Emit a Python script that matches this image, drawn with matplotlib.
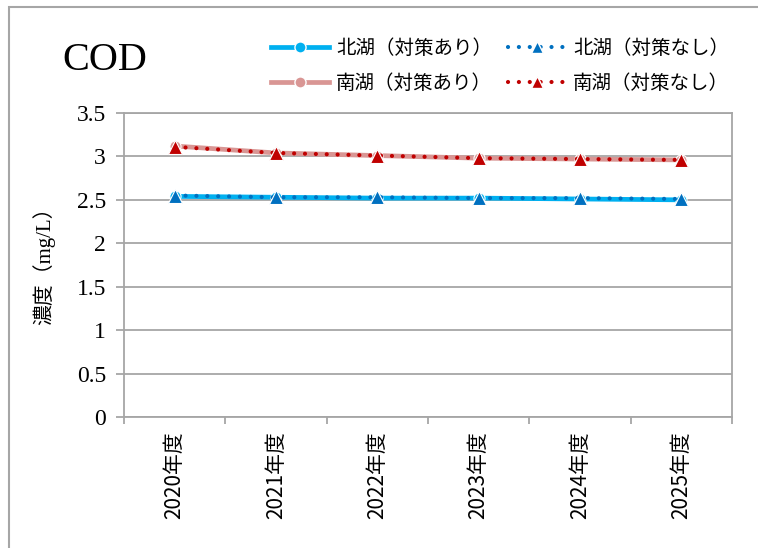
import matplotlib
matplotlib.use("Agg")
import matplotlib.pyplot as plt
from matplotlib.lines import Line2D
from matplotlib.patches import Rectangle

years = ["2020年度", "2021年度", "2022年度", "2023年度", "2024年度", "2025年度"]
north_with = [2.54, 2.53, 2.52, 2.52, 2.51, 2.50]
north_without = [2.55, 2.53, 2.53, 2.52, 2.52, 2.51]
south_with = [3.12, 3.04, 3.01, 2.98, 2.97, 2.96]
south_without = [3.11, 3.04, 3.01, 2.98, 2.97, 2.96]
yticks = [0, 0.5, 1, 1.5, 2, 2.5, 3, 3.5]
ytick_labels = ["0", "0.5", "1", "1.5", "2", "2.5", "3", "3.5"]

CJK = ["Noto Sans CJK JP", "DejaVu Sans"]
SERIF = ["Liberation Serif", "Noto Sans CJK JP"]

fig = plt.figure(figsize=(7.58, 5.48), dpi=100)
fig.patch.set_facecolor("white")
# outer frame (left and top visible)
fig.add_artist(Rectangle((9 / 758, -0.1), 1.2, 1 - 7 / 548 + 0.1, transform=fig.transFigure,
                         fill=False, edgecolor="#A6A6A6", linewidth=1.5))

ax = fig.add_axes([124 / 758, 1 - 417 / 548, (732 - 124) / 758, (417 - 113) / 548])
x = list(range(len(years)))
grid_c = "#A6A6A6"

c_nw, c_nn = "#00B0F0", "#0070C0"
c_sw, c_sn = "#D99694", "#C00000"
DOT = (0, (0.01, 2.6))

ax.plot(x, north_with, color=c_nw, lw=3.4, marker="o", ms=8, mfc=c_nw, mec="white", mew=0.8,
        solid_capstyle="butt", zorder=3)
ax.plot(x, south_with, color=c_sw, lw=3.4, marker="o", ms=8, mfc=c_sw, mec="white", mew=0.8,
        solid_capstyle="butt", zorder=3)
ax.plot(x, north_without, color=c_nn, lw=3.0, ls=DOT, dash_capstyle="round",
        marker="^", ms=10, mfc=c_nn, mec="white", mew=0.8, zorder=4)
ax.plot(x, south_without, color=c_sn, lw=3.0, ls=DOT, dash_capstyle="round",
        marker="^", ms=10, mfc=c_sn, mec="white", mew=0.8, zorder=4)

ax.set_xlim(-0.5, 5.5)
ax.set_ylim(0, 3.5)
ax.set_yticks(yticks)
ax.set_yticklabels(ytick_labels, fontfamily=SERIF, fontsize=17)
ax.yaxis.grid(True, color=grid_c, lw=1.3)
ax.set_axisbelow(True)
ax.tick_params(axis="y", length=6, color=grid_c, width=1.3, pad=7)

ax.set_xticks(x)
ax.set_xticklabels(years, rotation=90, fontfamily=CJK, fontsize=15)
ax.set_xticks([i - 0.5 for i in range(len(years) + 1)], minor=True)
ax.tick_params(axis="x", which="major", length=0, pad=10)
ax.tick_params(axis="x", which="minor", length=5, color=grid_c, width=1.3)

for s in ax.spines.values():
    s.set_color(grid_c)
    s.set_linewidth(1.3)

ax.set_ylabel("濃度（mg/L）", fontfamily=SERIF, fontsize=15)
ax.yaxis.set_label_coords(-0.113, 0.515)

fig.text(62 / 758, 1 - 60 / 548, "COD", fontfamily=SERIF, fontsize=29, va="center", ha="left")

handles = [
    Line2D([], [], color=c_nw, lw=3.4, marker="o", ms=8, mfc=c_nw, mec="white"),
    Line2D([], [], color=c_sw, lw=3.4, marker="o", ms=8, mfc=c_sw, mec="white"),
    Line2D([], [], color=c_nn, lw=3.0, ls=DOT, dash_capstyle="round",
           marker="^", ms=9, mfc=c_nn, mec="white"),
    Line2D([], [], color=c_sn, lw=3.0, ls=DOT, dash_capstyle="round",
           marker="^", ms=9, mfc=c_sn, mec="white"),
]
labels = ["北湖（対策あり）", "南湖（対策あり）", "北湖（対策なし）", "南湖（対策なし）"]
fig.legend(handles, labels, ncol=2, loc="center", bbox_to_anchor=(500 / 758, 1 - 66 / 548),
           frameon=False, prop={"family": CJK, "size": 14}, handlelength=3.0,
           handletextpad=0.35, columnspacing=0.8, labelspacing=0.75)

fig.savefig("out.png", dpi=100)
